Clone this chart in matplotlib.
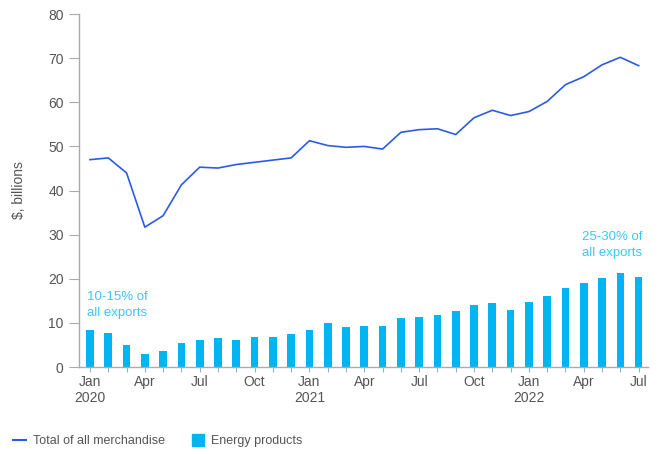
import numpy as np
import matplotlib
matplotlib.use('Agg')
import matplotlib.pyplot as plt
from matplotlib.lines import Line2D

plt.rcParams['font.family'] = ['Liberation Sans', 'DejaVu Sans']

months = ['Jan\n2020', '', '', 'Apr', '', '', 'Jul', '', '', 'Oct', '', '',
          'Jan\n2021', '', '', 'Apr', '', '', 'Jul', '', '', 'Oct', '', '',
          'Jan\n2022', '', '', 'Apr', '', '', 'Jul']

total_merch = [47.0, 47.4, 44.0, 31.7, 34.3, 41.3, 45.3, 45.1, 45.9, 46.4, 46.9, 47.4,
               51.3, 50.2, 49.8, 50.0, 49.4, 53.2, 53.8, 54.0, 52.7, 56.5, 58.2, 57.0,
               57.9, 60.2, 64.0, 65.8, 68.5, 70.2, 68.3]

energy = [8.5, 7.7, 5.1, 2.9, 3.6, 5.5, 6.2, 6.5, 6.2, 6.7, 6.9, 7.5,
          8.3, 9.9, 9.1, 9.2, 9.4, 11.0, 11.4, 11.7, 12.6, 14.1, 14.4, 12.9,
          14.7, 16.0, 17.8, 19.1, 20.2, 21.2, 20.3]

line_color = '#2B5BE6'
bar_color = '#00B5F1'
note_color = '#3EC6F2'
grey = '#555555'

fig = plt.figure(figsize=(6.61, 4.54), dpi=100)
ax = fig.add_axes([0.1195, 0.1916, 0.8605, 0.7774])

x = np.arange(len(months))
ax.bar(x, energy, width=0.42, color=bar_color, zorder=2)
ax.plot(x, total_merch, color=line_color, linewidth=1.2, zorder=3)

ax.set_xlim(-0.6, 30.5)
ax.set_ylim(0, 80)
ax.set_yticks(range(0, 81, 10))

ax.set_xticks(x)
ax.set_xticklabels(months)
major = [i for i, m in enumerate(months) if m]
for i, t in enumerate(ax.xaxis.get_major_ticks()):
    t.tick1line.set_markersize(7 if i in major else 4)

for s in ['top', 'right']:
    ax.spines[s].set_visible(False)
for s in ['left', 'bottom']:
    ax.spines[s].set_color('#aaaaaa')
    ax.spines[s].set_linewidth(1)
ax.tick_params(axis='both', colors='#aaaaaa', labelcolor=grey, labelsize=10)
ax.tick_params(axis='y', length=7, pad=4)
ax.tick_params(axis='x', pad=2)

ax.set_ylabel('$, billions', color=grey, fontsize=10, labelpad=16)

# annotations
ax.text(-0.15, 10.9, '10-15% of\nall exports', color=note_color, fontsize=9.5,
        ha='left', va='bottom', linespacing=1.4)
ax.text(30.2, 24.5, '25-30% of\nall exports', color=note_color, fontsize=9.5,
        ha='right', va='bottom', linespacing=1.4)

handles = [Line2D([0], [0], color=line_color, linewidth=1.5),
           Line2D([0], [0], marker='s', linestyle='none', markersize=9,
                  markerfacecolor=bar_color, markeredgecolor=bar_color)]
fig.legend(handles, ['Total of all merchandise', 'Energy products'],
           loc='lower left', bbox_to_anchor=(0.002, -0.01), ncol=2, frameon=False,
           fontsize=9, labelcolor=grey, handlelength=1.1,
           handletextpad=0.5, columnspacing=2.1)

fig.savefig('out.png', dpi=100)
